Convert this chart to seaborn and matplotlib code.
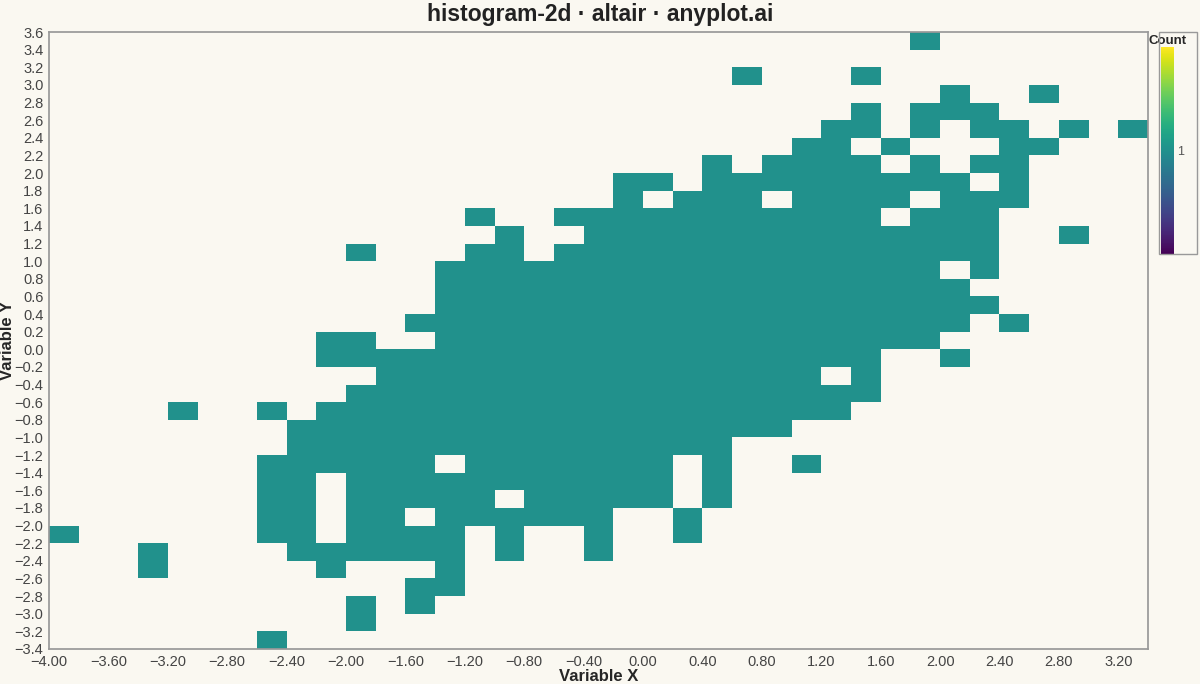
import numpy as np
import matplotlib
matplotlib.use("Agg")
import matplotlib.pyplot as plt
import seaborn as sns

# Bin grid (0.2 wide bins)
x_bin_start = -4.0
y_top = 3.6
bin_w = 0.2
# occupied columns per row (row 0 = top row 3.4..3.6); column 0 = -4.0..-3.8
rows_cols = [
    [29],
    [],
    [23, 27],
    [30, 33],
    [27, 29, 30, 31],
    [26, 27, 29, 31, 32, 34, 36],
    [25, 26, 28, 32, 33],
    [22, 24, 25, 26, 27, 29, 31, 32],
    [19, 20, 22, 23, 24, 25, 26, 27, 28, 29, 30, 32],
    [19, 21, 22, 23, 25, 26, 27, 28, 30, 31, 32],
    [14] + list(range(17, 28)) + [29, 30, 31],
    [15] + list(range(18, 32)) + [34],
    [10, 14, 15] + list(range(17, 32)),
    list(range(13, 30)) + [31],
    list(range(13, 31)),
    list(range(13, 32)),
    list(range(12, 31)) + [32],
    [9, 10] + list(range(13, 30)),
    list(range(9, 28)) + [30],
    list(range(11, 26)) + [27],
    list(range(10, 28)),
    [4, 7] + list(range(9, 27)),
    list(range(8, 25)),
    list(range(8, 23)),
    list(range(7, 13)) + list(range(14, 21)) + [22, 25],
    [7, 8] + list(range(10, 21)) + [22],
    [7, 8, 10, 11, 12, 13, 14] + list(range(16, 21)) + [22],
    [7, 8, 10, 11] + list(range(13, 19)) + [21],
    [0, 7, 8, 10, 11, 12, 13, 15, 18, 21],
    [3, 8, 9, 10, 11, 12, 13, 15, 18],
    [3, 9, 13],
    [12, 13],
    [10, 12],
    [10],
    [7],
]

xs, ys = [], []
for r, cols in enumerate(rows_cols):
    for c in cols:
        xs.append(x_bin_start + bin_w * c + bin_w / 2)
        ys.append(y_top - bin_w * r - bin_w / 2)

xedges = np.round(np.arange(-4.0, 3.4001, 0.2), 2)
yedges = np.round(np.arange(-3.4, 3.6001, 0.2), 2)

bg = "#faf8f1"
sns.set_theme(style="white")
plt.rcParams["font.family"] = ["Liberation Sans", "DejaVu Sans"]

fig = plt.figure(figsize=(12, 6.84), dpi=100, facecolor=bg)
ax = fig.add_axes([49/1200, 1-649/684, (1148-49)/1200, (649-32)/684])
cax = fig.add_axes([1161/1200, 1-254/684, 13/1200, (254-47)/684])
ax.set_facecolor(bg)

sns.histplot(x=xs, y=ys, bins=[xedges, yedges], cmap="viridis", vmin=0, vmax=2,
             cbar=True, cbar_ax=cax, cbar_kws={"ticks": [1]}, ax=ax)

ax.set_xlim(-4.0, 3.4)
ax.set_ylim(-3.4, 3.6)
xt = np.round(np.arange(-4.0, 3.21, 0.4), 2)
ax.set_xticks(xt)
ax.set_xticklabels([("0.00" if abs(v) < 1e-9 else f"{v:.2f}").replace("-", "\u2212") for v in xt])
yt = np.round(np.arange(-3.4, 3.61, 0.2), 2)
ax.set_yticks(yt)
ax.set_yticklabels([("0.0" if abs(v) < 1e-9 else f"{v:.1f}").replace("-", "\u2212") for v in yt])
ax.tick_params(labelsize=10.5, colors="#444444", length=3, pad=1)
for s in ax.spines.values():
    s.set_color("#999999")
ax.set_xlabel("Variable X", fontsize=12, fontweight="bold", labelpad=0)
ax.set_ylabel("Variable Y", fontsize=12, fontweight="bold", labelpad=0)
fig.text(0.5, 1-14/684, "histogram-2d · altair · anyplot.ai", fontsize=16.5,
         fontweight="bold", ha="center", va="center", color="#222222")

cax.tick_params(labelsize=9, colors="#555555", length=0, pad=2)
cax.set_title("Count", fontsize=9.5, fontweight="bold", pad=2)
for s in cax.spines.values():
    s.set_visible(False)
fig.patches.append(plt.Rectangle((1159/1200, 1-254/684), 38/1200, 222/684,
                                 transform=fig.transFigure, fill=False,
                                 edgecolor="#999999", linewidth=1))

fig.savefig("out.png", dpi=100, facecolor=bg)
